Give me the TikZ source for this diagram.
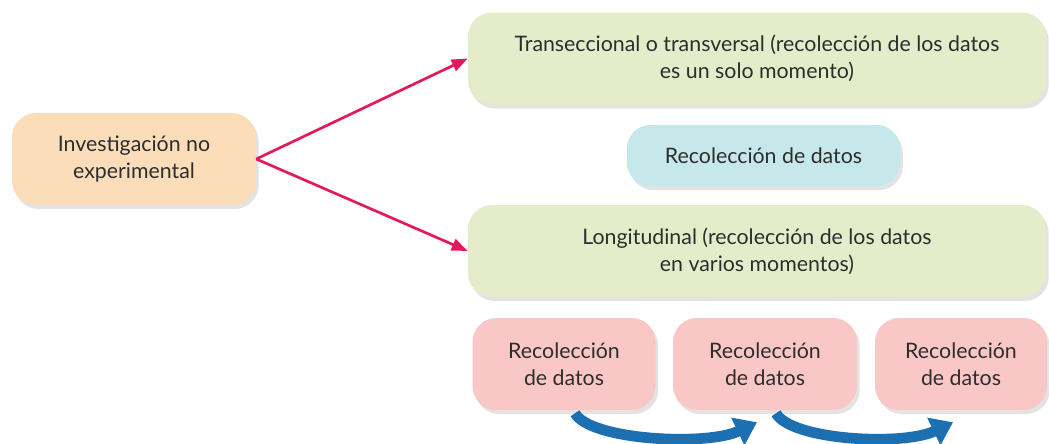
\documentclass[tikz,border=0pt]{standalone}
\usepackage{fontspec}
\setmainfont{Lato}
\usepackage{tikz}
\usetikzlibrary{shadows}
\usetikzlibrary{positioning}
\usetikzlibrary{arrows.meta,shapes}
\definecolor{cOrange}{RGB}{252,221,186}
\definecolor{cGreen}{RGB}{228,236,202}
\definecolor{cBlue}{RGB}{199,232,235}
\definecolor{cPink}{RGB}{249,199,198}
\definecolor{cRed}{RGB}{228,24,92}
\definecolor{cFlow}{RGB}{28,112,178}
\definecolor{cText}{RGB}{45,45,45}
\tikzstyle{box}=[rounded corners=18pt,text=cText,align=center,inner sep=0pt,font=\fontsize{16}{20.5}\selectfont,drop shadow={shadow xshift=2pt,shadow yshift=-3pt,opacity=0.22}]
\tikzstyle{greenbox}=[box,fill=cGreen,minimum width=433.5pt,minimum height=69pt]
\tikzstyle{pinkbox}=[box,fill=cPink,minimum height=69pt]
\tikzstyle{edge} = [draw,line width=2pt,cRed,-{Triangle[length=12pt,width=9pt]}]
\tikzstyle{flow} = [draw,line width=8pt,cFlow,-{Triangle[length=16pt,width=22pt]}]
\begin{document}
\begin{tikzpicture}[x=0.75pt,y=-0.75pt]
  \useasboundingbox (0,0) rectangle (1049,443);

  \node[box,fill=cOrange,minimum width=183pt,minimum height=69pt] (invest) at (134,159) {Investigación no\\experimental};

  \node[greenbox] (trans) at (757,58.5) {Transeccional o transversal (recolección de los datos\\es un solo momento)};
  \node[box,fill=cBlue,minimum width=205pt,minimum height=46pt] (rec) at (763.5,155.5) {Recolección de datos};
  \node[greenbox] (longi) at (757,251) {Longitudinal (recolección de los datos\\en varios momentos)};

  \foreach \x/\w/\name in {564/137.25pt/r1, 765/138pt/r2, 961/129pt/r3}
          \node[pinkbox,minimum width=\w] (\name) at (\x,364) {Recolección\\de datos};

  \foreach \dest in {trans, longi}
         \path[edge] (invest.east) -- (\dest.west);

  \foreach \source/\dest in {r1/r2, r2/r3}
         \path[flow] ([shift={(11,3)}]\source.south) .. controls +(15,27) and +(-50,24) .. ([shift={(-8,12)}]\dest.south);

\end{tikzpicture}
\end{document}
